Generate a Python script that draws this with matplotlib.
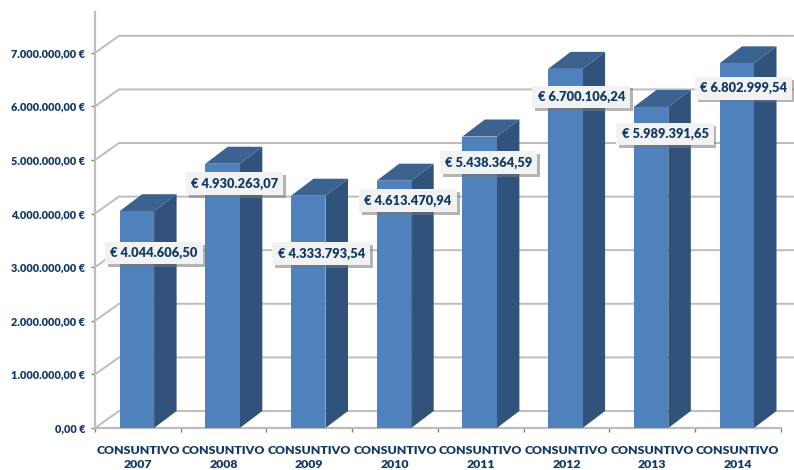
# -*- coding: utf-8 -*-
import matplotlib
matplotlib.use('Agg')
import matplotlib.pyplot as plt
import matplotlib.patheffects as pe
from matplotlib.patches import Polygon
from matplotlib.ticker import FixedLocator

# data
years = ['2007', '2008', '2009', '2010', '2011', '2012', '2013', '2014']
categories = ['CONSUNTIVO\n' + y for y in years]
values = [4044606.50, 4930263.07, 4333793.54, 4613470.94,
          5438364.59, 6700106.24, 5989391.65, 6802999.54]
value_labels = ['€ 4.044.606,50', '€ 4.930.263,07', '€ 4.333.793,54', '€ 4.613.470,94',
                '€ 5.438.364,59', '€ 6.700.106,24', '€ 5.989.391,65', '€ 6.802.999,54']
y_ticks = [0, 1000000, 2000000, 3000000, 4000000, 5000000, 6000000, 7000000]
y_tick_labels = ['0,00 €', '1.000.000,00 €', '2.000.000,00 €', '3.000.000,00 €',
                 '4.000.000,00 €', '5.000.000,00 €', '6.000.000,00 €', '7.000.000,00 €']

# label offset from bar top, pixels
label_dx = [16, 11, 12, 13, 8, 15, 13, 6]
label_dy = [-42, -20, -58, -20, -26, -28, -27, -25]

TEXT = '#123A66'
GRID = '#BDBDBD'
FRONT = '#4F81BD'
SIDE = '#31527B'
TOP = '#3C6290'

W, H = 794, 470
LEFT, RIGHT, BOTTOM, TOP_PX = 95, 780.6, 428, 12
PX_PER_VAL = 53.6 / 1000000
PX_PER_CAT = (RIGHT - LEFT) / 8
DX = 22.5 / PX_PER_CAT   # depth in x units
DY = 17 / PX_PER_VAL     # depth in y units
BAR_W = 34.5 / PX_PER_CAT
FONT = ['Lato', 'DejaVu Sans']

fig = plt.figure(figsize=(W / 100, H / 100), dpi=100, facecolor='white')
ax = fig.add_axes([LEFT / W, (H - BOTTOM) / H, (RIGHT - LEFT) / W, (BOTTOM - TOP_PX) / H])
ax.set_xlim(-0.5, 7.5)
ax.set_ylim(0, (BOTTOM - TOP_PX) / PX_PER_VAL)

for s in ['top', 'right']:
    ax.spines[s].set_visible(False)
for s in ['left', 'bottom']:
    ax.spines[s].set_color(GRID)
    ax.spines[s].set_linewidth(1.6)

ax.set_yticks(y_ticks)
ax.set_yticklabels(y_tick_labels, family=FONT, fontweight='heavy', fontsize=7.8, color=TEXT)
ax.tick_params(axis='y', length=3, width=1, color='#808080', pad=4)
ax.set_xticks(range(len(categories)))
ax.set_xticklabels(categories, family=FONT, fontweight='heavy', fontsize=8.8, color=TEXT,
                   linespacing=1.4)
ax.tick_params(axis='x', which='major', length=0, pad=12)
ax.xaxis.set_minor_locator(FixedLocator([i - 0.5 for i in range(9)]))
ax.tick_params(axis='x', which='minor', length=3, width=1, color='#808080', direction='out')

# back wall grid lines with the diagonal on the side wall
wall_x = -0.5 + 24 / PX_PER_CAT
far_x = -0.5 + (794 - LEFT) / PX_PER_CAT
for t in y_ticks:
    ax.plot([-0.5, wall_x, far_x], [t, t + DY, t + DY], color=GRID, lw=1.4,
            zorder=1, clip_on=False, solid_joinstyle='miter')

# 3d bars
for i, v in enumerate(values):
    x0 = i - BAR_W / 2 - 1 / PX_PER_CAT
    x1 = x0 + BAR_W
    ax.add_patch(Polygon([(x1, 0), (x1 + DX, DY), (x1 + DX, v + DY), (x1, v)],
                         closed=True, fc=SIDE, ec='none', zorder=3))
    ax.add_patch(Polygon([(x0, v), (x1, v), (x1 + DX, v + DY), (x0 + DX, v + DY)],
                         closed=True, fc=TOP, ec='none', zorder=3))
    ax.bar(i - 1 / PX_PER_CAT, v, width=BAR_W, color=FRONT, zorder=4)

# value boxes
for i, v in enumerate(values):
    t = ax.annotate(value_labels[i], xy=(i, v), xytext=(label_dx[i], label_dy[i]),
                    textcoords='offset pixels', ha='center', va='center',
                    family=FONT, fontweight='heavy', fontsize=9.3, color=TEXT, zorder=6,
                    bbox=dict(boxstyle='square,pad=0.4', fc='#F2F2F2', ec='none'))
    t.get_bbox_patch().set_path_effects([
        pe.withSimplePatchShadow(offset=(2, -2), shadow_rgbFace='#777777', alpha=0.55)])

fig.savefig('out.png', dpi=100)
